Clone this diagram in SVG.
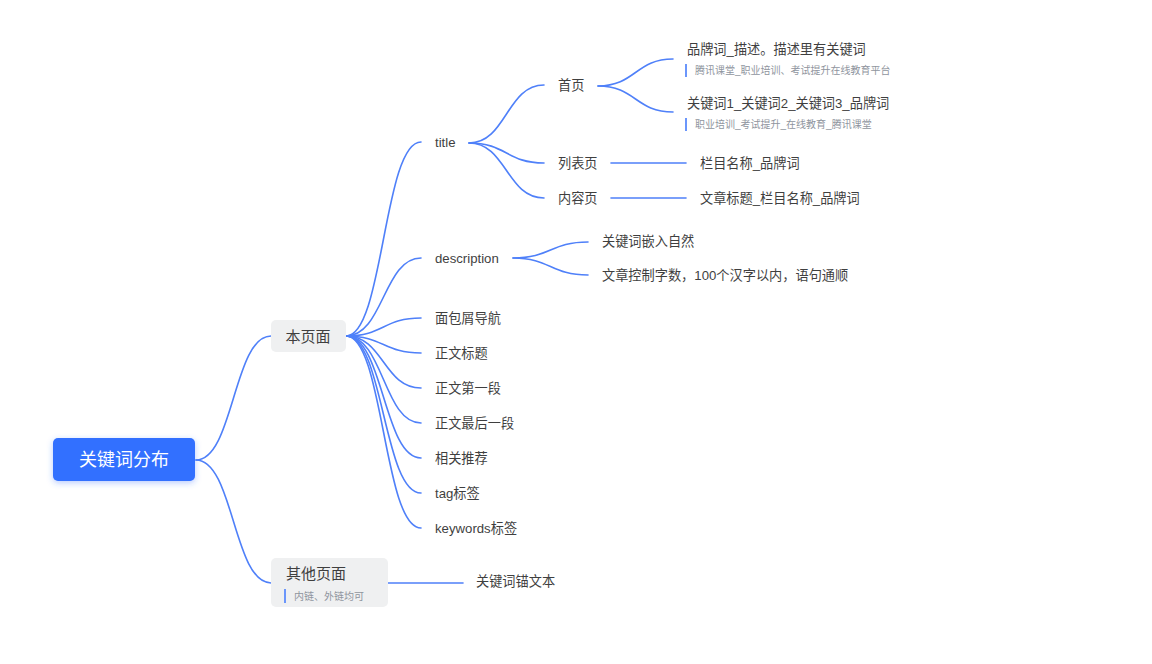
<svg xmlns="http://www.w3.org/2000/svg" width="1152" height="664" viewBox="0 0 1152 664">
<defs>
<style>
text{font-family:"Liberation Sans","Noto Sans CJK SC",sans-serif;fill:#3f3f3f;dominant-baseline:central}
.t13{font-size:13.2px}
.t15{font-size:15px}
.sub{font-size:10px;fill:#8f959e}
.bar{stroke:#6b96fb;stroke-width:2}
.ln{fill:none;stroke:#4f80f9;stroke-width:1.6;stroke-linecap:round}
.box{fill:#eff0f1}
</style>
<filter id="glow" x="-20%" y="-40%" width="140%" height="180%">
<feDropShadow dx="0" dy="2" stdDeviation="3" flood-color="#3370ff" flood-opacity="0.35"/>
</filter>
</defs>
<rect width="1152" height="664" fill="#fff"/>
<g id="connectors">
<path class="ln" d="M196 460 C233.5 460 233.5 336 271 336"/>
<path class="ln" d="M196 460 C233.5 460 233.5 583 271 583"/>
<path class="ln" d="M346 336 C383.5 336 383.5 142 421 142"/>
<path class="ln" d="M346 336 C383.5 336 383.5 258 421 258"/>
<path class="ln" d="M346 336 C383.5 336 383.5 318 421 318"/>
<path class="ln" d="M346 336 C383.5 336 383.5 353 421 353"/>
<path class="ln" d="M346 336 C383.5 336 383.5 388 421 388"/>
<path class="ln" d="M346 336 C383.5 336 383.5 423 421 423"/>
<path class="ln" d="M346 336 C383.5 336 383.5 458 421 458"/>
<path class="ln" d="M346 336 C383.5 336 383.5 493 421 493"/>
<path class="ln" d="M346 336 C383.5 336 383.5 528 421 528"/>
<path class="ln" d="M469 143 C506.5 143 506.5 85 544 85"/>
<path class="ln" d="M469 143 C506.5 143 506.5 163 544 163"/>
<path class="ln" d="M469 143 C506.5 143 506.5 198 544 198"/>
<path class="ln" d="M598 86 C635.5 86 635.5 59 673 59"/>
<path class="ln" d="M598 86 C635.5 86 635.5 112 673 112"/>
<path class="ln" d="M611 163 L686 163"/>
<path class="ln" d="M611 198 L686 198"/>
<path class="ln" d="M513 258 C550.5 258 550.5 242 588 242"/>
<path class="ln" d="M513 258 C550.5 258 550.5 275 588 275"/>
<path class="ln" d="M388 583 L463 583"/>
</g>
<g id="root">
<rect x="53" y="438" width="142" height="43" rx="5" fill="#3370ff" filter="url(#glow)"/>
<text x="124" y="460" text-anchor="middle" style="font-size:18px;fill:#fff">关键词分布</text>
</g>
<g id="n-benyemian">
<rect class="box" x="271" y="320" width="75" height="32" rx="5"/>
<text class="t15" x="308" y="336" text-anchor="middle">本页面</text>
</g>
<g id="n-qitayemian">
<rect class="box" x="271" y="558" width="117" height="49" rx="5"/>
<text class="t15" x="286" y="573">其他页面</text>
<line class="bar" x1="285" y1="589" x2="285" y2="603"/>
<text class="sub" x="294" y="596">内链、外链均可</text>
</g>
<g id="n-maowenben"><text class="t13" x="476" y="581">关键词锚文本</text></g>
<g id="n-title"><text class="t13" x="435" y="142">title</text></g>
<g id="n-shouye"><text class="t13" x="558" y="85">首页</text></g>
<g id="n-pinpai">
<text class="t13" x="687" y="49">品牌词_描述。描述里有关键词</text>
<line class="bar" x1="686" y1="64" x2="686" y2="77"/>
<text class="sub" x="695" y="70">腾讯课堂_职业培训、考试提升在线教育平台</text>
</g>
<g id="n-guanjianci">
<text class="t13" x="687" y="103">关键词1_关键词2_关键词3_品牌词</text>
<line class="bar" x1="686" y1="118" x2="686" y2="131"/>
<text class="sub" x="695" y="124">职业培训_考试提升_在线教育_腾讯课堂</text>
</g>
<g id="n-liebiao"><text class="t13" x="558" y="163">列表页</text></g>
<g id="n-lanmu"><text class="t13" x="700" y="163">栏目名称_品牌词</text></g>
<g id="n-neirong"><text class="t13" x="558" y="198">内容页</text></g>
<g id="n-wenzhang"><text class="t13" x="700" y="198">文章标题_栏目名称_品牌词</text></g>
<g id="n-description"><text class="t13" x="435" y="258">description</text></g>
<g id="n-qianru"><text class="t13" x="602" y="241">关键词嵌入自然</text></g>
<g id="n-zishu"><text class="t13" x="602" y="275">文章控制字数，100个汉字以内，语句通顺</text></g>
<g id="n-mianbao"><text class="t13" x="435" y="318">面包屑导航</text></g>
<g id="n-zhengwenbiaoti"><text class="t13" x="435" y="353">正文标题</text></g>
<g id="n-diyiduan"><text class="t13" x="435" y="388">正文第一段</text></g>
<g id="n-zuihouyiduan"><text class="t13" x="435" y="423">正文最后一段</text></g>
<g id="n-xiangguan"><text class="t13" x="435" y="458">相关推荐</text></g>
<g id="n-tag"><text class="t13" x="435" y="493">tag标签</text></g>
<g id="n-keywords"><text class="t13" x="435" y="528">keywords标签</text></g>
</svg>
